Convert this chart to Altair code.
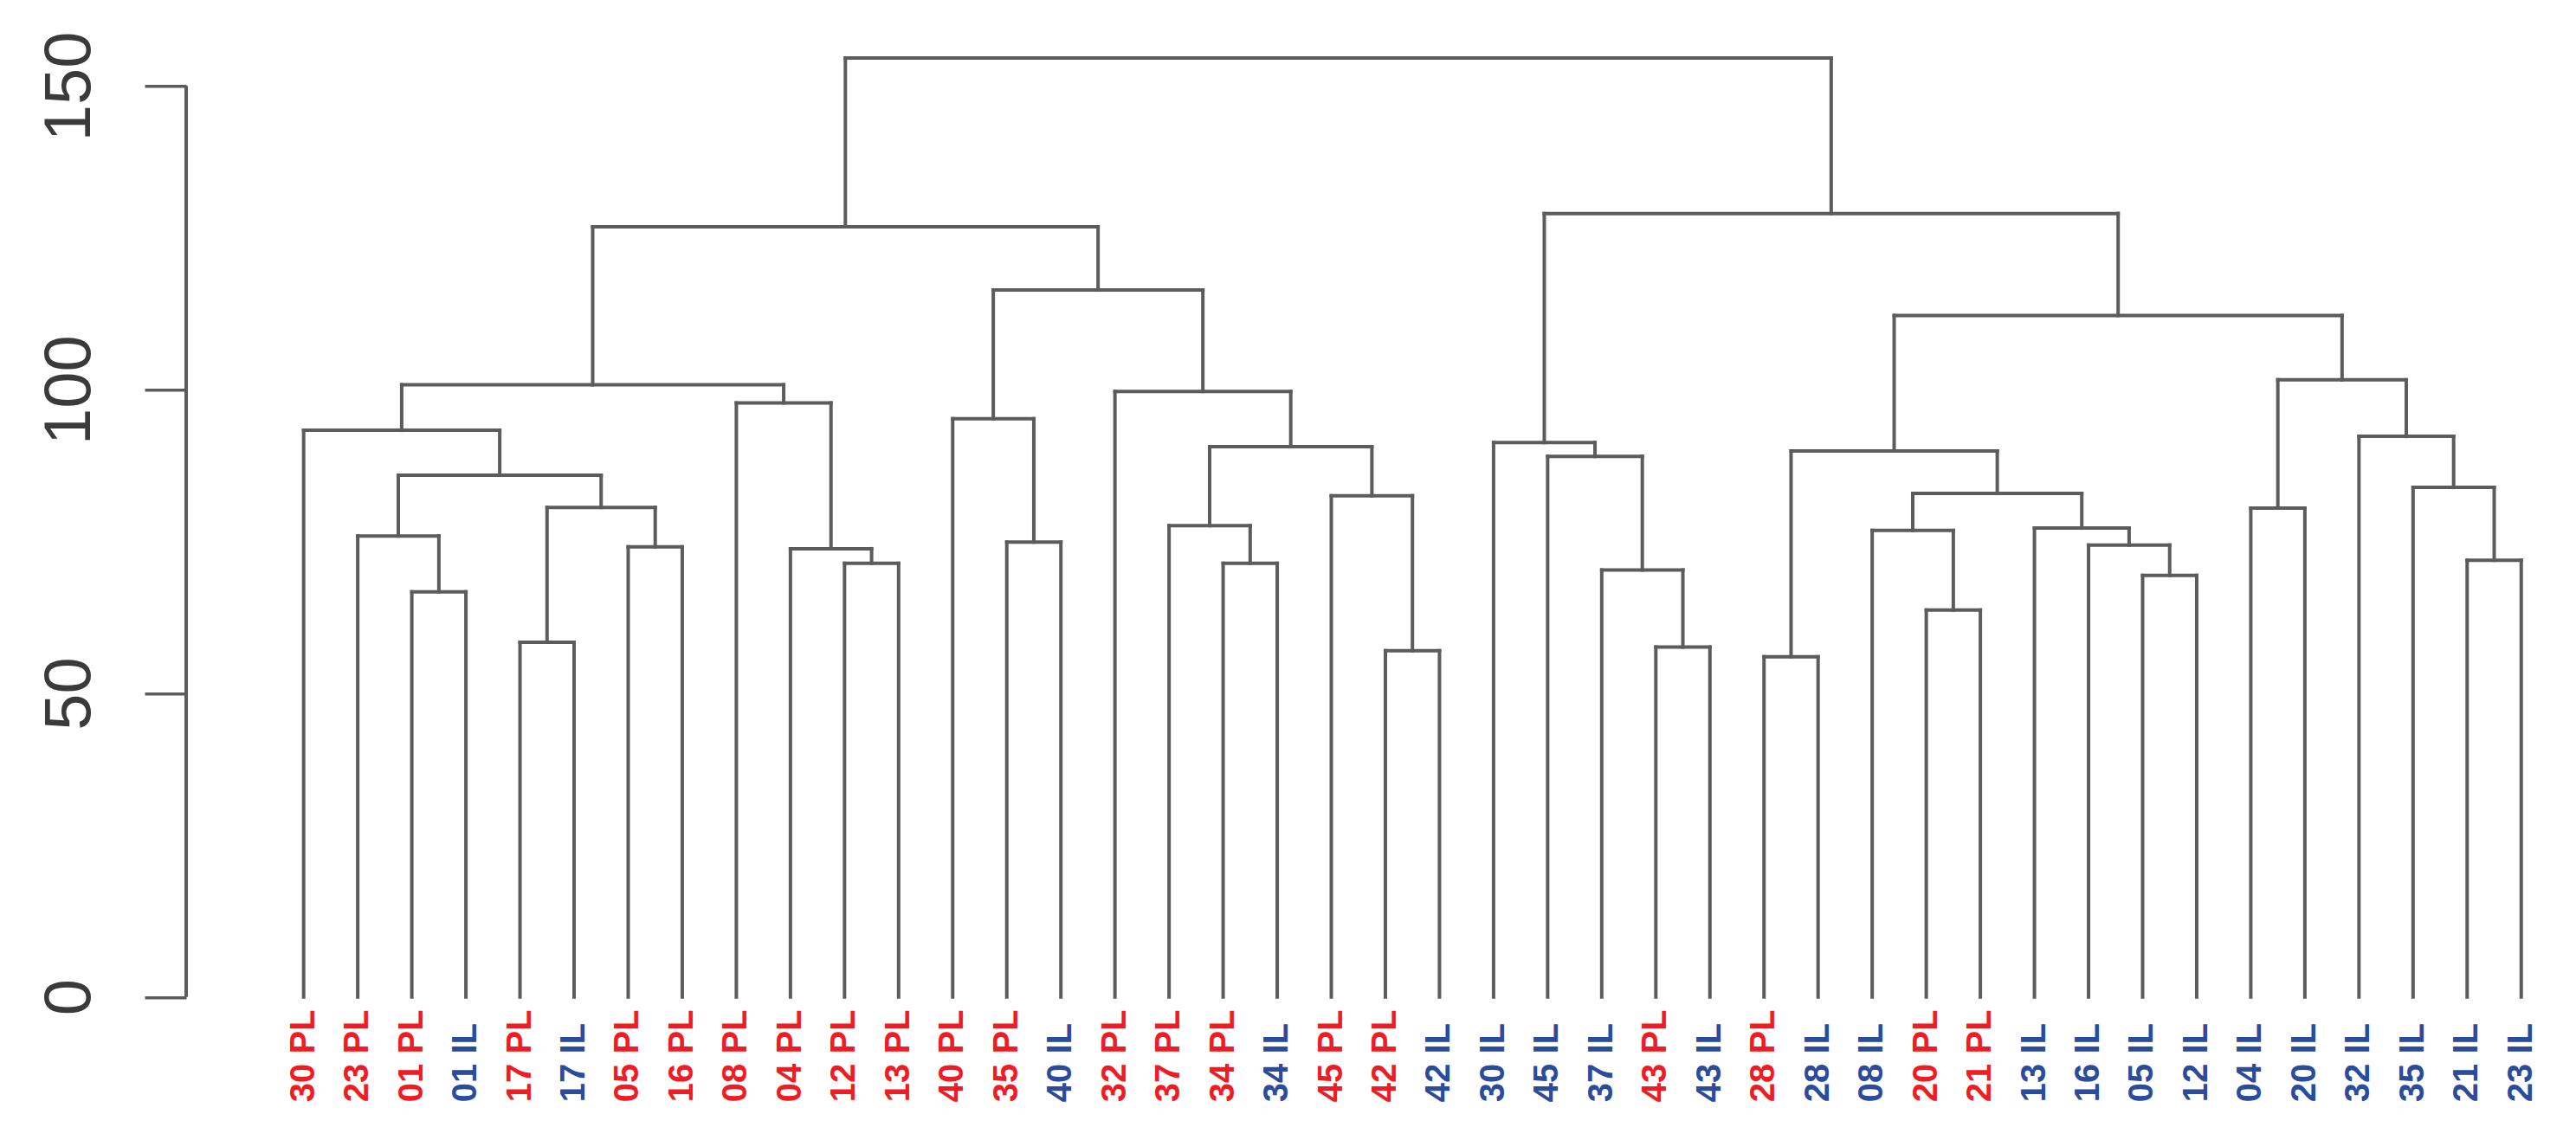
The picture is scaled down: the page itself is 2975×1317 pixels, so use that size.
import altair as alt
import pandas as pd

# Leaf labels in dendrogram order
leaves = ["30 PL", "23 PL", "01 PL", "01 IL", "17 PL", "17 IL", "05 PL", "16 PL",
          "08 PL", "04 PL", "12 PL", "13 PL", "40 PL", "35 PL", "40 IL", "32 PL",
          "37 PL", "34 PL", "34 IL", "45 PL", "42 PL", "42 IL", "30 IL", "45 IL",
          "37 IL", "43 PL", "43 IL", "28 PL", "28 IL", "08 IL", "20 PL", "21 PL",
          "13 IL", "16 IL", "05 IL", "12 IL", "04 IL", "20 IL", "32 IL", "35 IL",
          "21 IL", "23 IL"]

# R-style merge table: negative = leaf (1-based), positive = earlier merge (1-based)
merge_left = [-3, -2, -5, -7, 3, 2, -1, -11, -10, -9, 7, -14, -13, -18, -17, -21,
              -20, 15, -16, 13, 11, -26, -25, -24, -23, -28, -31, -30, -35, -34,
              -33, 28, 26, -37, -41, -40, -39, 34, 33, 25, 21]
merge_right = [-4, 1, -6, -8, 4, 5, 6, -12, 8, 9, 10, -15, 12, -19, 14, -22,
               16, 17, 18, 19, 20, -27, 22, 23, 24, -29, -32, 27, -36, 29,
               30, 31, 32, -38, -42, 35, 36, 37, 38, 39, 40]
merge_height = [66.7, 75.9, 58.4, 74.1, 80.6, 85.9, 93.3, 71.4, 73.8, 97.8, 100.8,
                74.9, 95.2, 71.4, 77.6, 57.0, 82.5, 90.6, 99.7, 116.4, 126.8,
                57.6, 70.3, 89.0, 91.3, 56.0, 63.7, 76.8, 69.4, 74.4, 77.2, 82.9,
                89.9, 80.5, 71.9, 83.9, 92.3, 101.6, 112.2, 129.0, 154.6]

y_ticks = [0, 50, 100, 150]

# ---- build segments from the tree ----
node_x, node_h = [], []


def pos(ref):
    if ref < 0:
        return float(-ref - 1), 0.0
    return node_x[ref - 1], node_h[ref - 1]


rows = []
for a, b, h in zip(merge_left, merge_right, merge_height):
    xa, ha = pos(a)
    xb, hb = pos(b)
    rows.append({"x": xa, "x2": xa, "y": ha, "y2": h})
    rows.append({"x": xb, "x2": xb, "y": hb, "y2": h})
    rows.append({"x": xa, "x2": xb, "y": h, "y2": h})
    node_x.append((xa + xb) / 2)
    node_h.append(h)

seg_df = pd.DataFrame(rows)
lab_df = pd.DataFrame({
    "i": list(range(len(leaves))),
    "label": leaves,
    "grp": [s.split(" ")[1] for s in leaves],
})
axis_df = pd.DataFrame({"y": [min(y_ticks)], "y2": [max(y_ticks)]})

xscale = alt.Scale(domain=[-2.172, 41.5], nice=False, zero=False)
yscale = alt.Scale(domain=[0, 156], nice=False)
LINE = "#5c5c5c"

tree = alt.Chart(seg_df).mark_rule(color=LINE, strokeWidth=4, strokeCap="square").encode(
    x=alt.X("x:Q", scale=xscale, axis=None),
    x2="x2:Q",
    y=alt.Y("y:Q", scale=yscale,
            axis=alt.Axis(values=y_ticks, domain=False, grid=False, title=None,
                          tickSize=48, tickWidth=3.5, tickColor=LINE,
                          labelAngle=270, labelAlign="center",
                          labelBaseline="alphabetic", labelPadding=64,
                          labelFontSize=76, labelColor="#3a3a3a",
                          labelFont="Liberation Sans")),
    y2="y2:Q",
)

axis_line = alt.Chart(axis_df).mark_rule(color=LINE, strokeWidth=4).encode(
    x=alt.value(0),
    y=alt.Y("y:Q", scale=yscale),
    y2="y2:Q",
)

labels = alt.Chart(lab_df).mark_text(
    angle=270, align="left", baseline="middle", fontSize=40, fontWeight="bold",
    font="Liberation Sans",
).encode(
    x=alt.X("i:Q", scale=xscale, axis=None),
    y=alt.value(1216),
    text="label:N",
    color=alt.Color("grp:N", scale=alt.Scale(domain=["PL", "IL"],
                                             range=["#ee1c25", "#2b4c9b"]),
                    legend=None),
)

chart = alt.layer(tree, axis_line, labels).properties(
    width=2728,
    height=1094.5,
    autosize=alt.AutoSizeParams(type="none"),
    padding={"left": 207, "top": 49.2, "right": 20, "bottom": 150},
).configure_view(stroke=None)

chart.save("out.html", embed_options={"renderer": "svg", "actions": False})
